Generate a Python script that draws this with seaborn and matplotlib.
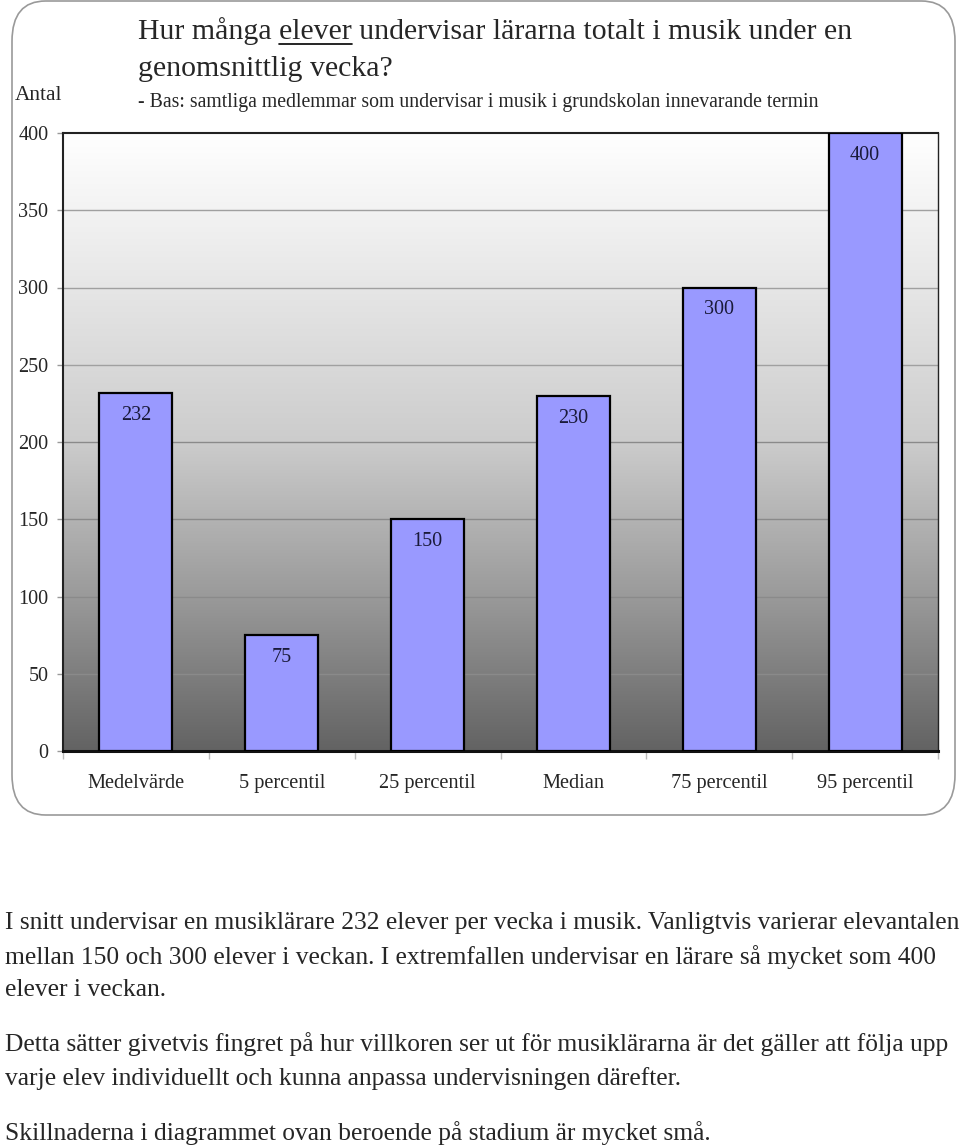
import numpy as np
import matplotlib
matplotlib.use('Agg')
import matplotlib.pyplot as plt
from matplotlib.patches import FancyBboxPatch
from matplotlib.lines import Line2D
import seaborn as sns

# data
categories = ['Medelvärde', '5 percentil', '25 percentil', 'Median', '75 percentil', '95 percentil']
values = [232, 75, 150, 230, 300, 400]
y_ticks = [0, 50, 100, 150, 200, 250, 300, 350, 400]

title_pre = 'Hur många '
title_ul = 'elever'
title_post = ' undervisar lärarna totalt i musik under en'
title_line2 = 'genomsnittlig vecka?'
subtitle = '- Bas: samtliga medlemmar som undervisar i musik i grundskolan innevarande termin'
body_lines = [
    'I snitt undervisar en musiklärare 232 elever per vecka i musik. Vanligtvis varierar elevantalen',
    'mellan 150 och 300 elever i veckan. I extremfallen undervisar en lärare så mycket som 400',
    'elever i veckan.',
    'Detta sätter givetvis fingret på hur villkoren ser ut för musiklärarna är det gäller att följa upp',
    'varje elev individuellt och kunna anpassa undervisningen därefter.',
    'Skillnaderna i diagrammet ovan beroende på stadium är mycket små.',
]
body_y = [923, 957, 990, 1044, 1079, 1133]

sns.set_theme(style='white')
plt.rcParams['font.family'] = ['Liberation Serif', 'DejaVu Serif']

W, H = 960, 1147
fig = plt.figure(figsize=(W / 100, H / 100), dpi=100)

# rounded frame around the chart
frame = FancyBboxPatch((12 / W, 1 - 815 / H), 943 / W, 814 / H,
                       boxstyle='round,pad=0,rounding_size=0.035',
                       transform=fig.transFigure, facecolor='white',
                       edgecolor='#9a9a9a', linewidth=1.2, zorder=0)
fig.patches.append(frame)

ax = fig.add_axes([63 / W, 1 - 751 / H, 875 / W, 618 / H])
ax.set_zorder(2)

# gradient background
grad = np.linspace(0, 1, 256).reshape(-1, 1)
cmap = matplotlib.colors.LinearSegmentedColormap.from_list(
    'bg', [(0, '#ffffff'), (0.25, '#e6e6e6'), (0.5, '#cccccc'), (0.75, '#9a9a9a'), (1, '#636363')])
ax.imshow(grad, cmap=cmap, aspect='auto', extent=[-0.5, 5.5, 0, 400],
          origin='upper', zorder=0)

sns.barplot(x=categories, y=values, order=categories, color='#9999ff',
            saturation=1, width=0.5, edgecolor='black', linewidth=1.6,
            ax=ax, zorder=3)
for y in y_ticks[1:-1]:
    ax.axhline(y, color='#a0a0a0' if y > 200 else '#8a8a8a', linewidth=1.0, zorder=1)

ax.bar_label(ax.containers[0], labels=[str(v) for v in values],
             padding=-23, fontsize=14.5, color='#1a1a3a')

ax.set_xlim(-0.5, 5.5)
ax.set_ylim(0, 400)
ax.set_yticks(y_ticks)
ax.set_yticklabels([str(t) for t in y_ticks], fontsize=14.5)
ax.set_xticks(range(len(categories)))
ax.set_xticklabels(categories, fontsize=14.7)
ax.set_xticks(np.arange(-0.5, 6, 1), minor=True)
ax.tick_params(axis='x', which='major', length=0, pad=16.5)
ax.tick_params(axis='x', which='minor', length=6, width=1, color='#bbbbbb', direction='out', bottom=True)
ax.tick_params(axis='y', length=4.5, width=1, color='#999999', direction='out', left=True, pad=6)
ax.set_xlabel('')
ax.set_ylabel('')
for side in ['left', 'top', 'right']:
    ax.spines[side].set_color('#222222')
    ax.spines[side].set_linewidth(1.5)
ax.spines['bottom'].set_color('#111111')
ax.spines['bottom'].set_linewidth(2.2)
ax.spines['right'].set_linewidth(1.0)

fig.text(15 / W, 1 - 95 / H, 'Antal', fontsize=15.4, va='center', ha='left')

# title with underlined word
tfs = 21.5
ty = 1 - 31 / H
fig.text(138 / W, ty, title_pre + title_ul + title_post, fontsize=tfs, va='center', ha='left')
fig.canvas.draw()
r = fig.canvas.get_renderer()
tmp1 = fig.text(0, 0, title_pre + title_ul, fontsize=tfs)
tmp2 = fig.text(0, 0, title_ul, fontsize=tfs)
w1 = tmp1.get_window_extent(r).width
w2 = tmp2.get_window_extent(r).width
tmp1.remove()
tmp2.remove()
x0 = 138 + (w1 - w2)
x1 = 138 + w1
uy = 1 - 44 / H
fig.add_artist(Line2D([x0 / W, x1 / W], [uy, uy], transform=fig.transFigure,
                      color='black', linewidth=1.2))
fig.text(138 / W, 1 - 69 / H, title_line2, fontsize=tfs, va='center', ha='left')
fig.text(138 / W, 1 - 103 / H, subtitle, fontsize=14.2, va='center', ha='left')

for line, y in zip(body_lines, body_y):
    fig.text(5 / W, 1 - y / H, line, fontsize=18.4, va='center', ha='left')

fig.savefig('out.png', dpi=100)
